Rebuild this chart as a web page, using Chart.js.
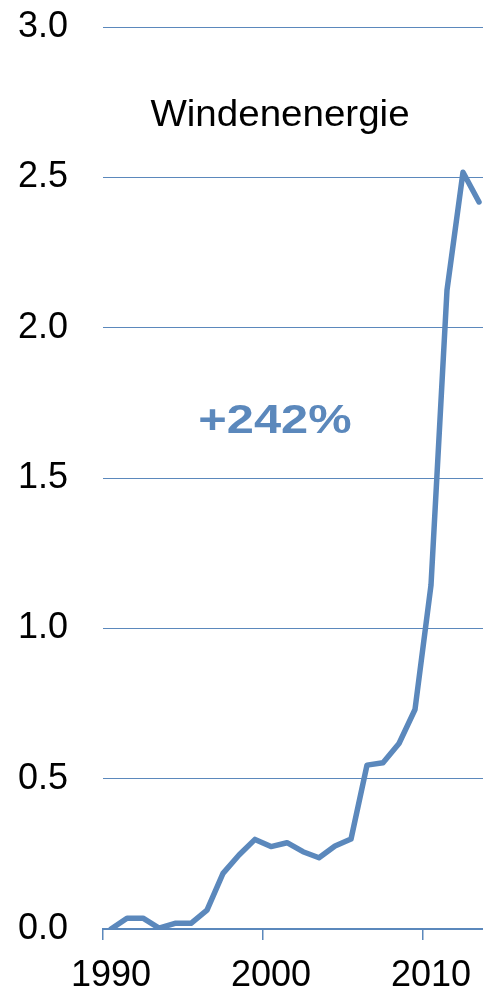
<!DOCTYPE html>
<html>
<head>
<meta charset="utf-8">
<title>Windenenergie</title>
<script src="https://cdn.jsdelivr.net/npm/chart.js@4/dist/chart.umd.min.js"></script>
<style>
  html, body { margin: 0; padding: 0; background: #fff; overflow: hidden; }
  canvas { display: block; }
</style>
</head>
<body>
<canvas id="windChart" width="488" height="995"></canvas>
<script>
const years = [];
for (let y = 1990; y <= 2013; y++) years.push(String(y));

// Windenergie, Index relativ zu 1990
const wind = [0.0, 0.036, 0.036, 0.003, 0.019, 0.019, 0.063, 0.185, 0.246, 0.298,
              0.274, 0.287, 0.257, 0.237, 0.276, 0.299, 0.545, 0.553, 0.617, 0.73,
              1.144, 2.125, 2.517, 2.418];

const yTicks = [0, 0.5, 1.0, 1.5, 2.0, 2.5, 3.0];
const xShown = ['1990', '2000', '2010'];

const blue = '#5b88bc';
const font = '"Liberation Sans", Arial, sans-serif';

// Titel und Zuwachs-Beschriftung
const labelsPlugin = {
  id: 'labels',
  afterDraw(chart) {
    const c = chart.ctx;
    c.save();
    c.textAlign = 'center';
    c.textBaseline = 'alphabetic';

    c.fillStyle = '#000';
    c.font = '36px ' + font;
    c.save();
    c.translate(280, 126);
    c.scale(1.07, 1);
    c.fillText('Windenenergie', 0, 0);
    c.restore();

    c.fillStyle = blue;
    c.font = 'bold 40px ' + font;
    c.save();
    c.translate(275, 433);
    c.scale(1.22, 1);
    c.fillText('+242%', 0, 0);
    c.restore();

    c.restore();
  }
};

new Chart(document.getElementById('windChart').getContext('2d'), {
  type: 'line',
  data: {
    labels: years,
    datasets: [{
      label: 'Windenenergie',
      data: wind,
      borderColor: blue,
      borderWidth: 5.5,
      borderCapStyle: 'round',
      borderJoinStyle: 'round',
      pointRadius: 0,
      tension: 0,
      fill: false
    }]
  },
  options: {
    responsive: false,
    animation: false,
    layout: { padding: { top: 27, right: 1, left: 0, bottom: 0 } },
    plugins: {
      legend: { display: false },
      tooltip: { enabled: false },
      title: { display: false }
    },
    scales: {
      x: {
        type: 'category',
        offset: true,
        grid: {
          offset: true,
          drawOnChartArea: false,
          drawTicks: true,
          tickLength: 11,
          lineWidth: 1.5,
          color: (ctx) => (ctx.index % 10 === 0 ? blue : 'rgba(0,0,0,0)')
        },
        border: { display: true, color: blue, width: 2 },
        ticks: {
          autoSkip: false,
          maxRotation: 0,
          padding: 14,
          color: '#000',
          font: { family: font, size: 36 },
          callback: function (val, i) {
            const lab = this.getLabelForValue(val);
            return xShown.includes(lab) ? lab : '';
          }
        },
        afterFit: (s) => { s.height = 66; s.paddingLeft = 0; s.paddingRight = 0; }
      },
      y: {
        min: 0,
        max: 3,
        afterBuildTicks: (s) => { s.ticks = yTicks.map(v => ({ value: v })); },
        grid: { color: blue, lineWidth: 1, drawTicks: false },
        border: { display: false },
        ticks: {
          padding: 35,
          color: '#000',
          font: { family: font, size: 36 },
          callback: (v) => v.toFixed(1)
        },
        afterFit: (s) => { s.width = 103; s.paddingTop = 0; s.paddingBottom = 0; }
      }
    }
  },
  plugins: [labelsPlugin]
});
</script>
</body>
</html>
